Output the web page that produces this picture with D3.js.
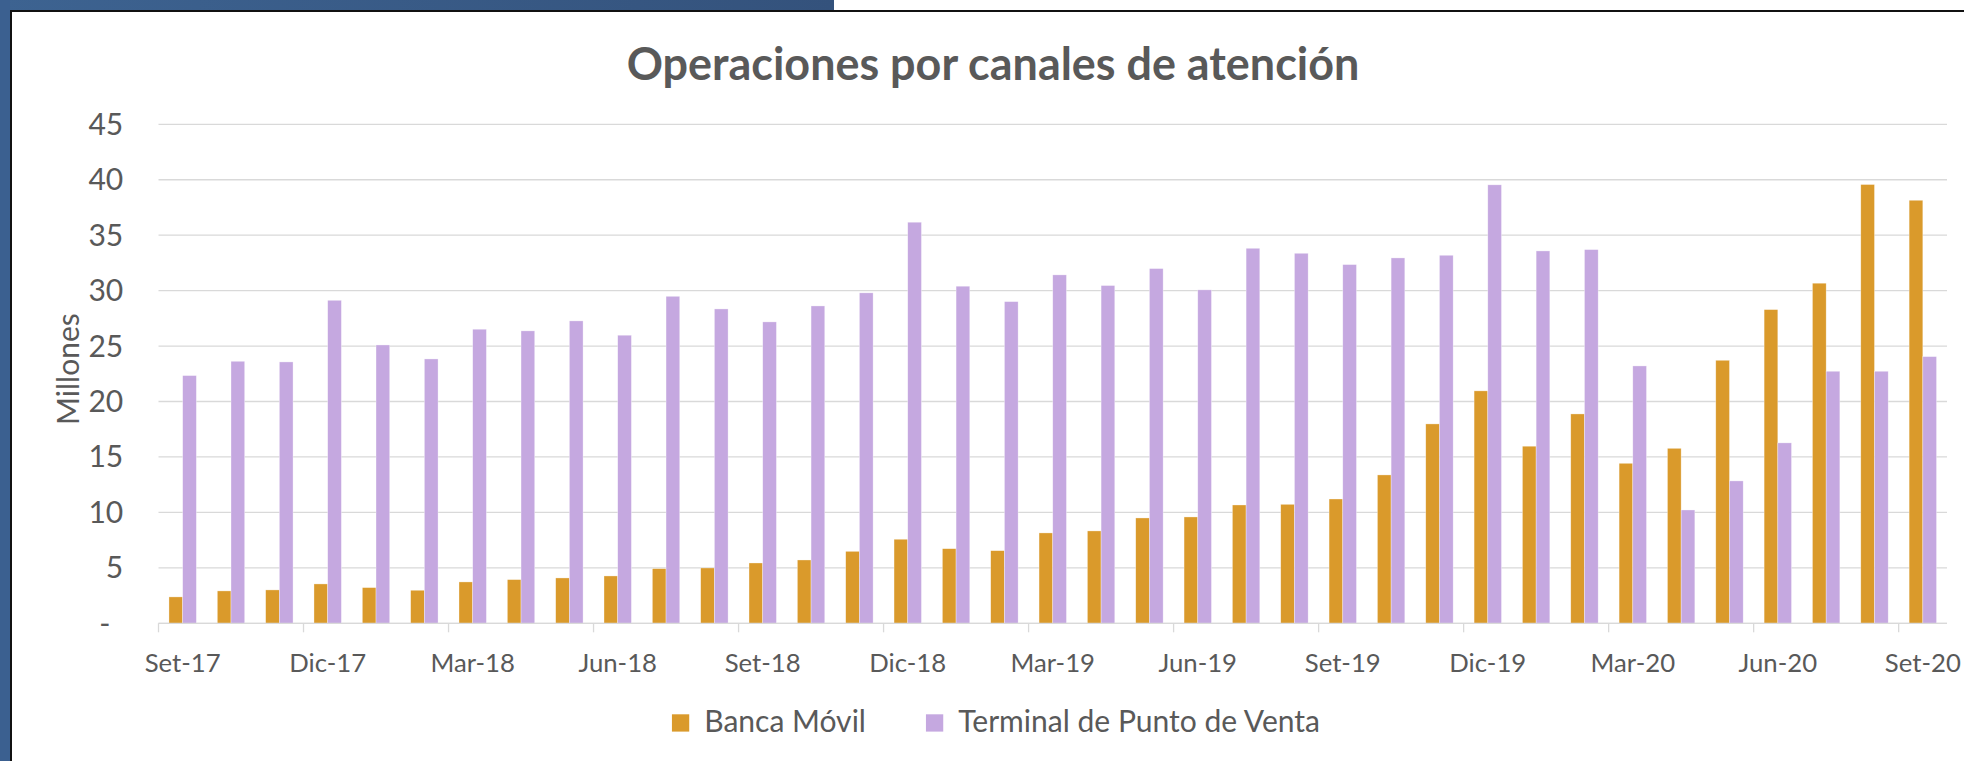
<!DOCTYPE html>
<html><head><meta charset="utf-8">
<script src="https://cdn.jsdelivr.net/npm/d3@7"></script>
<style>html,body{margin:0;padding:0;background:#fff;overflow:hidden} svg{display:block}</style>
</head><body>
<svg id="chart" width="1964" height="761"></svg>
<script>
const categories = ["Set-17","Oct-17","Nov-17","Dic-17","Ene-18","Feb-18","Mar-18","Abr-18","May-18","Jun-18","Jul-18","Ago-18","Set-18","Oct-18","Nov-18","Dic-18","Ene-19","Feb-19","Mar-19","Abr-19","May-19","Jun-19","Jul-19","Ago-19","Set-19","Oct-19","Nov-19","Dic-19","Ene-20","Feb-20","Mar-20","Abr-20","May-20","Jun-20","Jul-20","Ago-20","Set-20"];
const bancaMovil = [2.38,2.92,3.01,3.55,3.22,2.98,3.73,3.94,4.09,4.27,4.93,4.99,5.44,5.71,6.49,7.58,6.73,6.55,8.15,8.33,9.50,9.59,10.67,10.73,11.21,13.38,17.98,20.96,15.97,18.88,14.43,15.78,23.72,28.29,30.67,39.57,38.15];
const terminalPV = [22.34,23.63,23.57,29.13,25.10,23.84,26.52,26.37,27.27,25.98,29.49,28.35,27.18,28.62,29.80,36.17,30.40,29.01,31.42,30.46,31.99,30.07,33.82,33.37,32.35,32.95,33.19,39.54,33.58,33.70,23.21,10.22,12.84,16.27,22.73,22.73,24.05];
const seriesNames = ["Banca Móvil","Terminal de Punto de Venta"];
const seriesColors = ["#DA9A2B","#C5A8E0"];
const yTickValues = [0,5,10,15,20,25,30,35,40,45];
const yTickLabels = ["-","5","10","15","20","25","30","35","40","45"];
const xTickLabels = ["Set-17","Dic-17","Mar-18","Jun-18","Set-18","Dic-18","Mar-19","Jun-19","Set-19","Dic-19","Mar-20","Jun-20","Set-20"];
const titleText = "Operaciones por canales de atención";
const yAxisTitle = "Millones";

const W = 1964, H = 761;
const plot = {left:158.5, right:1947, top:124.3, bottom:623.3};
const FONT = "Lato, 'Open Sans', sans-serif";
const TEXT = "#595959";
const GRID = "#d9d9d9";

const svg = d3.select("#chart");
svg.append("rect").attr("width",W).attr("height",H).attr("fill","#fff");

// frame decoration
const grad = svg.append("defs").append("linearGradient").attr("id","bg").attr("x1","0").attr("x2","1");
grad.append("stop").attr("offset","0").attr("stop-color","#3d6391");
grad.append("stop").attr("offset","1").attr("stop-color","#34527c");
svg.append("rect").attr("x",0).attr("y",0).attr("width",834).attr("height",10).attr("fill","url(#bg)");
svg.append("rect").attr("x",0).attr("y",0).attr("width",10).attr("height",H).attr("fill","#3b6090");
svg.append("rect").attr("x",10).attr("y",10).attr("width",W-10).attr("height",2).attr("fill","#111");
svg.append("rect").attr("x",10).attr("y",10).attr("width",2).attr("height",H-10).attr("fill","#111");

function fitSize(text, weight, target){
  const t = svg.append("text").attr("font-family",FONT).attr("font-weight",weight).attr("font-size",100).text(text);
  const w = t.node().getComputedTextLength();
  t.remove();
  return 100*target/w;
}
const baseSize = fitSize(seriesNames[1], 400, 362);
const xLabelSize = Math.min(baseSize, fitSize(xTickLabels[0], 400, 76));
const titleSize = fitSize(titleText, 700, 733);

const x = d3.scaleBand().domain(categories).range([plot.left, plot.right]).padding(0);
const xs = d3.scaleBand().domain(seriesNames).range([0, x.bandwidth()]).paddingInner(0).paddingOuter(0.764);
const y = d3.scaleLinear().domain([0,45]).range([plot.bottom, plot.top]);

// gridlines
svg.append("g").selectAll("line").data(yTickValues).join("line")
  .attr("x1",plot.left).attr("x2",plot.right)
  .attr("y1",d=>y(d)).attr("y2",d=>y(d))
  .attr("stroke",GRID).attr("stroke-width",1.3);

// y labels
svg.append("g").selectAll("text").data(yTickValues).join("text")
  .attr("x",123.3).attr("y",d=>y(d)).attr("dy","0.35em")
  .attr("dx",(d,i)=> yTickLabels[i]==="-" ? -13 : 0)
  .attr("text-anchor","end").attr("font-family",FONT).attr("font-size",baseSize).attr("fill",TEXT)
  .text((d,i)=>yTickLabels[i]);

// bars
const data = categories.map((c,i)=>({cat:c, vals:[bancaMovil[i], terminalPV[i]]}));
const groups = svg.append("g").selectAll("g").data(data).join("g")
  .attr("transform",d=>`translate(${x(d.cat)},0)`);
groups.selectAll("rect").data(d=>d.vals.map((v,k)=>({v,k}))).join("rect")
  .attr("x",d=>xs(seriesNames[d.k])).attr("width",xs.bandwidth())
  .attr("y",d=>y(d.v)).attr("height",d=>y(0)-y(d.v))
  .attr("fill",d=>seriesColors[d.k])
  .attr("stroke","#fff").attr("stroke-width",0.6).attr("stroke-opacity",0.55);

// x axis line + ticks
svg.append("line").attr("x1",plot.left).attr("x2",plot.right).attr("y1",y(0)).attr("y2",y(0))
  .attr("stroke",GRID).attr("stroke-width",1.3);
const tickCats = categories.filter(c=>xTickLabels.includes(c));
svg.append("g").selectAll("line").data(tickCats).join("line")
  .attr("x1",d=>x(d)).attr("x2",d=>x(d)).attr("y1",y(0)).attr("y2",y(0)+9)
  .attr("stroke",GRID).attr("stroke-width",1.3);
svg.append("g").selectAll("text").data(tickCats).join("text")
  .attr("x",d=>x(d)+x.bandwidth()/2).attr("y",672)
  .attr("text-anchor","middle").attr("font-family",FONT).attr("font-size",xLabelSize).attr("fill",TEXT)
  .text(d=>d);

// y axis title
svg.append("text").attr("transform","translate(79,369) rotate(-90)")
  .attr("text-anchor","middle").attr("font-family",FONT).attr("font-size",baseSize).attr("fill",TEXT)
  .text(yAxisTitle);

// title
svg.append("text").attr("x",993).attr("y",80).attr("text-anchor","middle")
  .attr("font-family",FONT).attr("font-weight",700).attr("font-size",titleSize).attr("fill",TEXT)
  .text(titleText);

// legend
const lg = svg.append("g");
const items = seriesNames.map((n,k)=>{
  const t = lg.append("text").attr("font-family",FONT).attr("font-size",baseSize).attr("fill",TEXT).attr("y",732).text(n);
  return {n,k,t,w:t.node().getComputedTextLength()};
});
const sq = 17.3, gapT = 15, gapItem = 60;
const total = items.reduce((s,it)=>s+sq+gapT+it.w,0) + gapItem*(items.length-1);
let cx = 996 - total/2;
items.forEach(it=>{
  lg.append("rect").attr("x",cx).attr("y",714.3).attr("width",sq).attr("height",sq).attr("fill",seriesColors[it.k]);
  it.t.attr("x",cx+sq+gapT);
  cx += sq+gapT+it.w+gapItem;
});
</script>
</body></html>
